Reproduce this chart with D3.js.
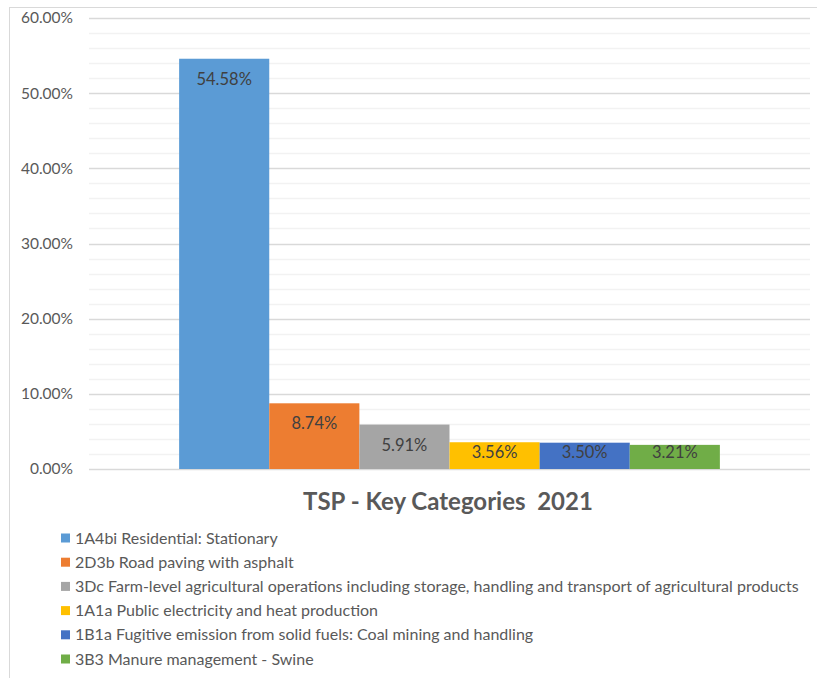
<!DOCTYPE html>
<html>
<head>
<meta charset="utf-8">
<script src="https://cdn.jsdelivr.net/npm/d3@7"></script>
<style>
  body { margin: 0; background: #fff; }
  svg { display: block; }
</style>
</head>
<body>
<svg id="chart" width="817" height="678"></svg>
<script>
const categories = [
  "1A4bi Residential: Stationary",
  "2D3b Road paving with asphalt",
  "3Dc Farm-level agricultural operations including storage, handling and transport of agricultural products",
  "1A1a Public electricity and heat production",
  "1B1a Fugitive emission from solid fuels: Coal mining and handling",
  "3B3 Manure management - Swine"
];
const values = [54.58, 8.74, 5.91, 3.56, 3.50, 3.21];
const colors = ["#5B9BD5", "#ED7D31", "#A5A5A5", "#FFC000", "#4472C4", "#70AD47"];
const majorTicks = [0, 10, 20, 30, 40, 50, 60];
const minorTicks = d3.range(0, 60.01, 2);
const title = "TSP - Key Categories  2021";

const svg = d3.select("#chart");
const font = "Lato, 'Open Sans', sans-serif";

// chart frame (left & top borders)
svg.append("line").attr("x1", 9.5).attr("x2", 9.5).attr("y1", 7).attr("y2", 678)
  .attr("stroke", "#d9d9d9").attr("stroke-width", 1);
svg.append("line").attr("x1", 9).attr("x2", 817).attr("y1", 7.5).attr("y2", 7.5)
  .attr("stroke", "#d9d9d9").attr("stroke-width", 1);

const plotLeft = 89, plotRight = 810, plotTop = 18, plotBottom = 469;
const y = d3.scaleLinear().domain([0, 60]).range([plotBottom, plotTop]);

const slot = (plotRight - plotLeft) / 8;
const groupX = d3.scaleBand().domain(d3.range(categories.length))
  .range([plotLeft + slot, plotRight - slot]).padding(0);

// minor gridlines
svg.append("g").selectAll("line").data(minorTicks.filter(t => t % 10 !== 0)).join("line")
  .attr("x1", plotLeft).attr("x2", plotRight)
  .attr("y1", d => Math.round(y(d)) + 0.5).attr("y2", d => Math.round(y(d)) + 0.5)
  .attr("stroke", "#f2f2f2").attr("stroke-width", 1.3);

// major gridlines
svg.append("g").selectAll("line").data(majorTicks).join("line")
  .attr("x1", plotLeft).attr("x2", plotRight)
  .attr("y1", d => Math.round(y(d)) + 0.5).attr("y2", d => Math.round(y(d)) + 0.5)
  .attr("stroke", "#d9d9d9").attr("stroke-width", 1.3);

// y-axis labels via d3 axis
const yAxis = d3.axisLeft(y).tickValues(majorTicks).tickSize(0).tickPadding(0)
  .tickFormat(d => d3.format(".2f")(d) + "%");
const ag = svg.append("g").attr("transform", `translate(73,0)`).call(yAxis);
ag.select(".domain").remove();
ag.selectAll("text").attr("font-family", font).attr("font-size", 15.5).attr("fill", "#595959");

// bars
svg.append("g").selectAll("rect").data(values).join("rect")
  .attr("x", (d, i) => groupX(i))
  .attr("width", groupX.bandwidth())
  .attr("y", d => y(d))
  .attr("height", d => y(0) - y(d))
  .attr("fill", (d, i) => colors[i]);

// data labels (inside end, clamped to fit above the baseline)
svg.append("g").selectAll("text").data(values).join("text")
  .attr("x", (d, i) => groupX(i) + groupX.bandwidth() / 2)
  .attr("y", d => Math.min(y(d) + 20, y(0) - 17.3) + 6)
  .attr("text-anchor", "middle")
  .attr("font-family", font).attr("font-size", 16.5).attr("fill", "#404040")
  .text(d => d3.format(".2f")(d) + "%");

// title
svg.append("text").attr("x", 448).attr("y", 510).attr("text-anchor", "middle")
  .attr("font-family", font).attr("font-size", 24).attr("font-weight", "bold")
  .attr("fill", "#595959").attr("xml:space", "preserve").style("white-space", "pre")
  .text(title);

// legend
const lg = svg.append("g");
const rows = lg.selectAll("g").data(categories).join("g")
  .attr("transform", (d, i) => `translate(61, ${538 + i * 24.2})`);
rows.append("rect").attr("x", 0).attr("y", -4.5).attr("width", 9).attr("height", 9)
  .attr("fill", (d, i) => colors[i]);
rows.append("text").attr("x", 14).attr("y", 5.5)
  .attr("font-family", font).attr("font-size", 16).attr("fill", "#595959")
  .text(d => d);
</script>
</body>
</html>
